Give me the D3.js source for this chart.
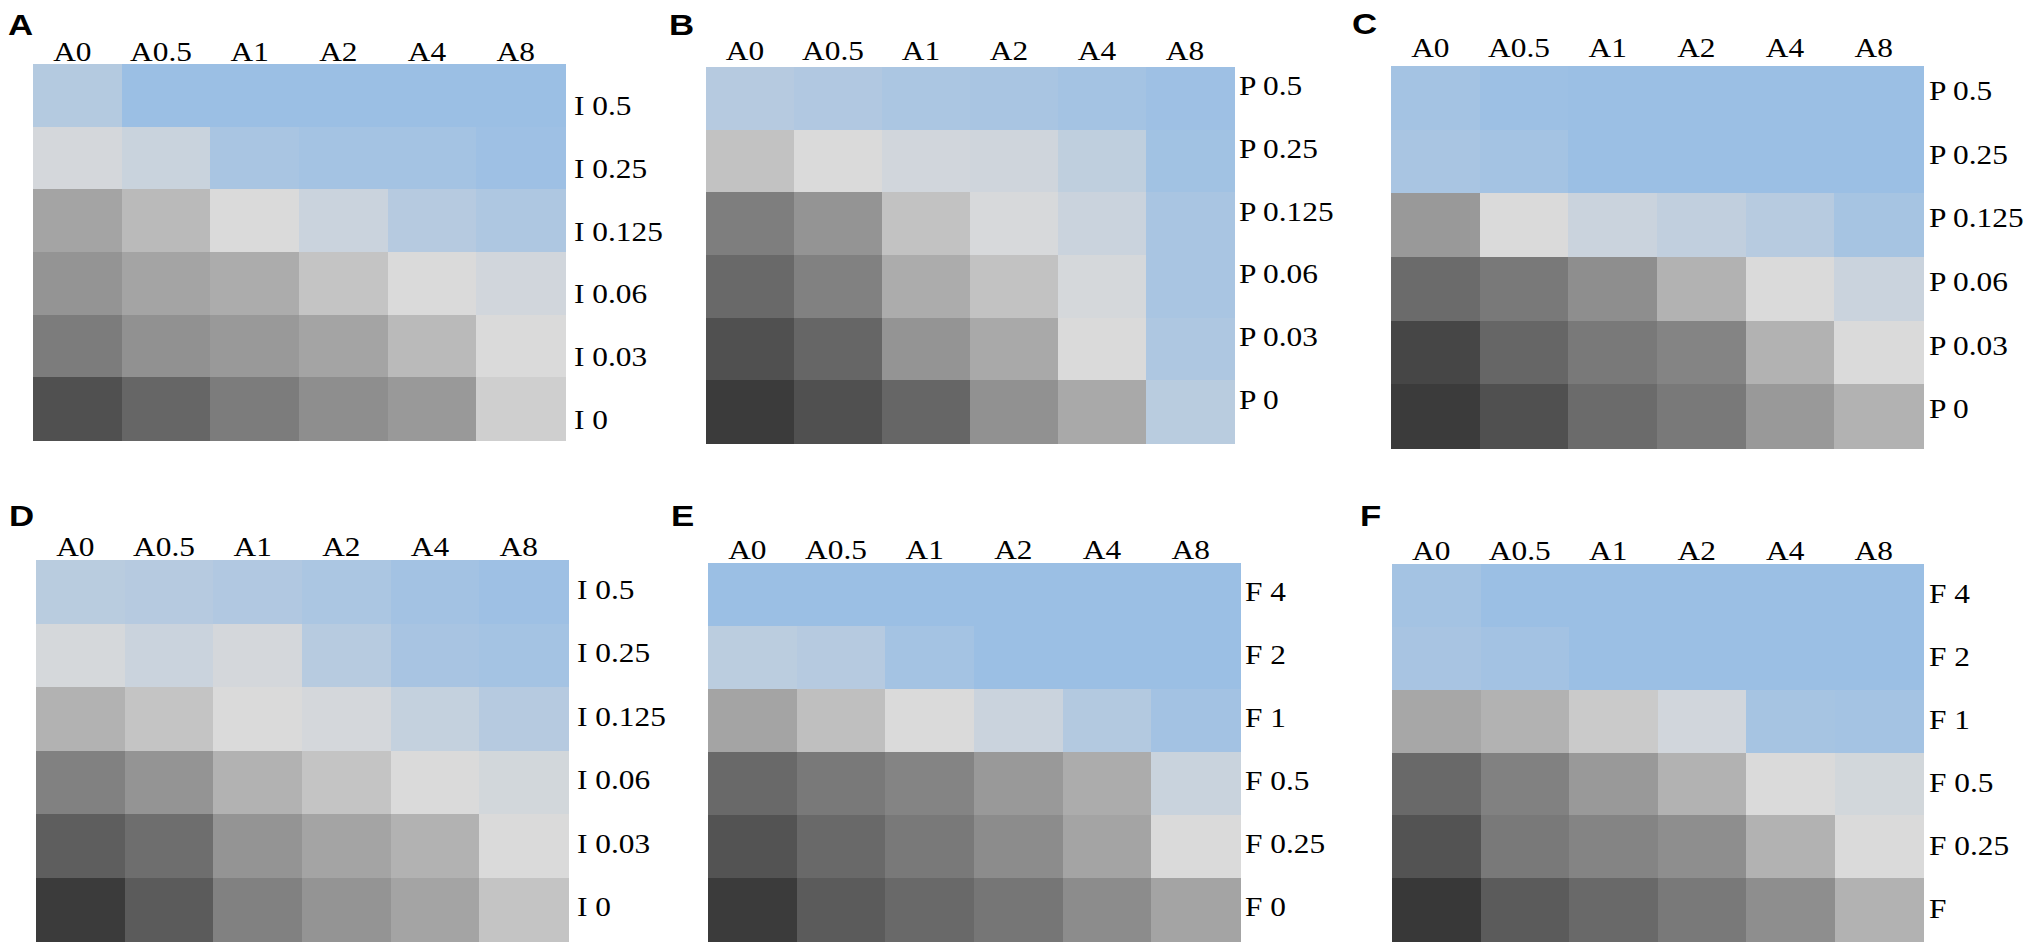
<!DOCTYPE html>
<html>
<head>
<meta charset="utf-8">
<script src="https://cdn.jsdelivr.net/npm/d3@7"></script>
<style>
  body { margin: 0; background: #fff; }
  svg { display: block; }
</style>
</head>
<body>
<div id="chart"></div>
<script>
// Column concentrations shared by every panel
const columns = ["A0", "A0.5", "A1", "A2", "A4", "A8"];

// Row labels, top to bottom
const rowsA = ["I 0.5", "I 0.25", "I 0.125", "I 0.06", "I 0.03", "I 0"];
const rowsB = ["P 0.5", "P 0.25", "P 0.125", "P 0.06", "P 0.03", "P 0"];
const rowsC = ["P 0.5", "P 0.25", "P 0.125", "P 0.06", "P 0.03", "P 0"];
const rowsD = ["I 0.5", "I 0.25", "I 0.125", "I 0.06", "I 0.03", "I 0"];
const rowsE = ["F 4", "F 2", "F 1", "F 0.5", "F 0.25", "F 0"];
const rowsF = ["F 4", "F 2", "F 1", "F 0.5", "F 0.25", "F"];

// Cell values (0 = darkest grey, 60 = lightest grey, 100 = full blue)
const valuesA = [
  [84, 100, 100, 100, 100, 100],
  [64, 71, 91, 94, 94, 98],
  [40, 48, 60, 70, 83, 88],
  [34, 40, 43, 52, 60, 66],
  [25, 33, 36, 40, 48, 60],
  [9, 17, 25, 32, 36, 56]
];
const valuesB = [
  [83, 86, 90, 91, 94, 98],
  [51, 60, 66, 67, 77, 96],
  [26, 34, 51, 62, 70, 91],
  [18, 27, 43, 51, 63, 91],
  [9, 17, 34, 42, 60, 88],
  [1, 9, 17, 33, 42, 81]
];
const valuesC = [
  [94, 99, 100, 100, 100, 100],
  [91, 94, 100, 100, 100, 100],
  [36, 60, 70, 76, 82, 93],
  [19, 24, 32, 45, 60, 70],
  [5, 17, 24, 28, 45, 60],
  [1, 9, 19, 24, 36, 45]
];
const valuesD = [
  [81, 83, 86, 90, 95, 98],
  [63, 70, 64, 82, 92, 94],
  [45, 52, 60, 64, 74, 83],
  [27, 34, 45, 52, 60, 65],
  [14, 20, 34, 40, 45, 60],
  [1, 13, 27, 34, 40, 52]
];
const valuesE = [
  [100, 100, 100, 100, 100, 100],
  [80, 83, 94, 100, 100, 100],
  [40, 50, 60, 70, 85, 95],
  [18, 24, 28, 36, 43, 71],
  [10, 18, 24, 31, 40, 60],
  [1, 13, 18, 23, 31, 40]
];
const valuesF = [
  [94, 100, 100, 100, 100, 100],
  [92, 95, 100, 100, 100, 100],
  [41, 45, 54, 66, 93, 94],
  [18, 27, 36, 45, 60, 65],
  [10, 24, 28, 32, 45, 60],
  [0, 13, 18, 24, 32, 45]
];

const panels = [
  { letter: "A", rows: rowsA, values: valuesA, x: 33, y: 64, w: 532, h: 376, lx: 8, ly: 35, colGap: 3, rowDy: 20, rowGap: 9 },
  { letter: "B", rows: rowsB, values: valuesB, x: 706, y: 67, w: 528, h: 376, lx: 669, ly: 35, colGap: 7, rowDy: -3, rowGap: 5 },
  { letter: "C", rows: rowsC, values: valuesC, x: 1391, y: 66, w: 532, h: 382, lx: 1352, ly: 34, colGap: 9, rowDy: 2, rowGap: 6 },
  { letter: "D", rows: rowsD, values: valuesD, x: 36, y: 560, w: 532, h: 381, lx: 9, ly: 526, colGap: 4, rowDy: 7, rowGap: 9 },
  { letter: "E", rows: rowsE, values: valuesE, x: 708, y: 563, w: 532, h: 378, lx: 671, ly: 526, colGap: 4, rowDy: 6, rowGap: 5 },
  { letter: "F", rows: rowsF, values: valuesF, x: 1392, y: 564, w: 531, h: 377, lx: 1360, ly: 526, colGap: 4, rowDy: 8, rowGap: 6 }
];

const width = 2033, height = 946;
const stretch = 1.12;
const serif = "'Liberation Serif', 'Times New Roman', serif";

const color = d3.scaleLinear()
  .domain([0, 60, 100])
  .range(["#383838", "#dadada", "#9bbfe4"]);

const svg = d3.select("#chart")
  .append("svg")
  .attr("width", width)
  .attr("height", height);

panels.forEach(p => {
  const x = d3.scaleBand().domain(columns).range([0, p.w]);
  const y = d3.scaleBand().domain(p.rows).range([0, p.h]);

  const g = svg.append("g")
    .attr("transform", `translate(${p.x},${p.y})`);

  // Cells
  const cells = p.values.flatMap((row, i) =>
    row.map((v, j) => ({ row: p.rows[i], col: columns[j], v })));

  g.selectAll("rect")
    .data(cells)
    .enter()
    .append("rect")
    .attr("x", d => x(d.col))
    .attr("y", d => y(d.row))
    .attr("width", x.bandwidth() + 0.5)
    .attr("height", y.bandwidth() + 0.5)
    .attr("fill", d => color(d.v))
    .attr("shape-rendering", "crispEdges");

  // Column labels on top
  g.selectAll(".col")
    .data(columns)
    .enter()
    .append("text")
    .attr("class", "col")
    .attr("transform", d => `translate(${x(d) + x.bandwidth() / 2 - 5},${-p.colGap}) scale(${stretch},1)`)
    .attr("text-anchor", "middle")
    .style("font-family", serif)
    .style("font-size", "28px")
    .text(d => d);

  // Row labels on the right
  g.selectAll(".row")
    .data(p.rows)
    .enter()
    .append("text")
    .attr("class", "row")
    .attr("transform", d => `translate(${p.w + p.rowGap},${y(d) + y.bandwidth() / 2 + p.rowDy}) scale(${stretch},1)`)
    .style("font-family", serif)
    .style("font-size", "28px")
    .text(d => d);

  // Panel letter
  svg.append("text")
    .attr("transform", `translate(${p.lx},${p.ly}) scale(1.2,1)`)
    .style("font-family", "'Liberation Sans', Arial, sans-serif")
    .style("font-weight", "bold")
    .style("font-size", "29px")
    .text(p.letter);
});
</script>
</body>
</html>
